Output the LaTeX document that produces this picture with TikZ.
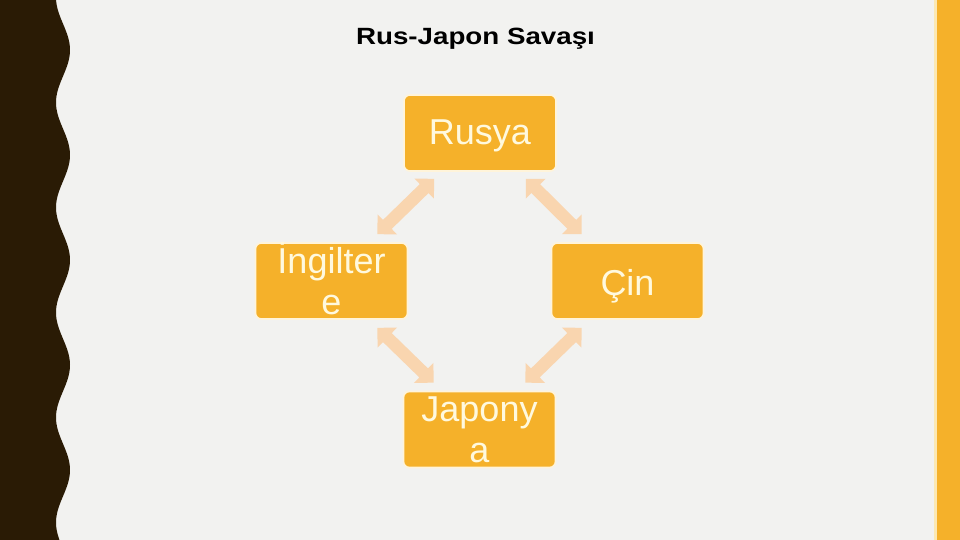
\documentclass[tikz,border=0pt]{standalone}
\usepackage{fontspec}
\setmainfont{Liberation Sans}
\newfontfamily\titlefont[FakeStretch=1.18]{Liberation Sans}
\usetikzlibrary{arrows.meta}
\definecolor{bg}{HTML}{F2F2F0}
\definecolor{darkbrown}{HTML}{2A1B05}
\definecolor{boxorange}{HTML}{F5B12A}
\definecolor{boxedge}{HTML}{FFF4DA}
\definecolor{boxtext}{HTML}{FFF9DE}
\definecolor{peach}{HTML}{F9D5AF}
\definecolor{paleline}{HTML}{FCE8B2}
\newcommand{\twolines}[2]{\vbox{\halign{\hfil##\hfil\cr #1\cr #2\cr}}}
\tikzset{
  box/.style={draw=boxedge, line width=1.6pt, fill=boxorange, rounded corners=6pt,
    minimum width=152pt, minimum height=76pt, inner sep=0pt,
    text=boxtext, font=\fontsize{36}{40.5}\selectfont},
  link/.style={draw=peach, line width=12.5pt,
    {Triangle[width=27pt,length=14pt]}-{Triangle[width=27pt,length=14pt]}}
}
\begin{document}
\begin{tikzpicture}[x=1pt,y=-1pt]
\useasboundingbox (0,0) rectangle (960,540);
\fill[bg] (0,0) rectangle (960,540);
\fill[darkbrown] (0,0) -- plot[domain=0:540, samples=220] ({63+7*cos((\x-50)*3.42857)}, \x) -- (0,540) -- cycle;
\fill[paleline] (933.5,0) rectangle (937,540);
\fill[boxorange] (937,0) rectangle (960,540);
\node[anchor=base, font=\titlefont\bfseries\fontsize{23.5}{26}\selectfont] (title) at (475.5,44.3) {Rus-Japon Savaşı};
\node[box, text height=24pt, text depth=0pt] (rusya) at (480,133) {Rusya};
\node[box, text height=66pt, text depth=0pt] (ing) at (331.5,281) {\twolines{İngilter}{e}};
\node[box, text height=28pt, text depth=0pt] (cin) at (627.5,281) {Çin};
\node[box, text height=65pt, text depth=0pt] (jap) at (479.5,429.5) {\twolines{Japony}{a}};
\draw[link] ([shift={(31,7)}]rusya.south west) -- ([shift={(-31,-8)}]ing.north east);
\draw[link] ([shift={(-31,7)}]rusya.south east) -- ([shift={(31,-8)}]cin.north west);
\draw[link] ([shift={(-31,8)}]ing.south east) -- ([shift={(31,-8)}]jap.north west);
\draw[link] ([shift={(31,8)}]cin.south west) -- ([shift={(-31,-8)}]jap.north east);
\end{tikzpicture}
\end{document}
